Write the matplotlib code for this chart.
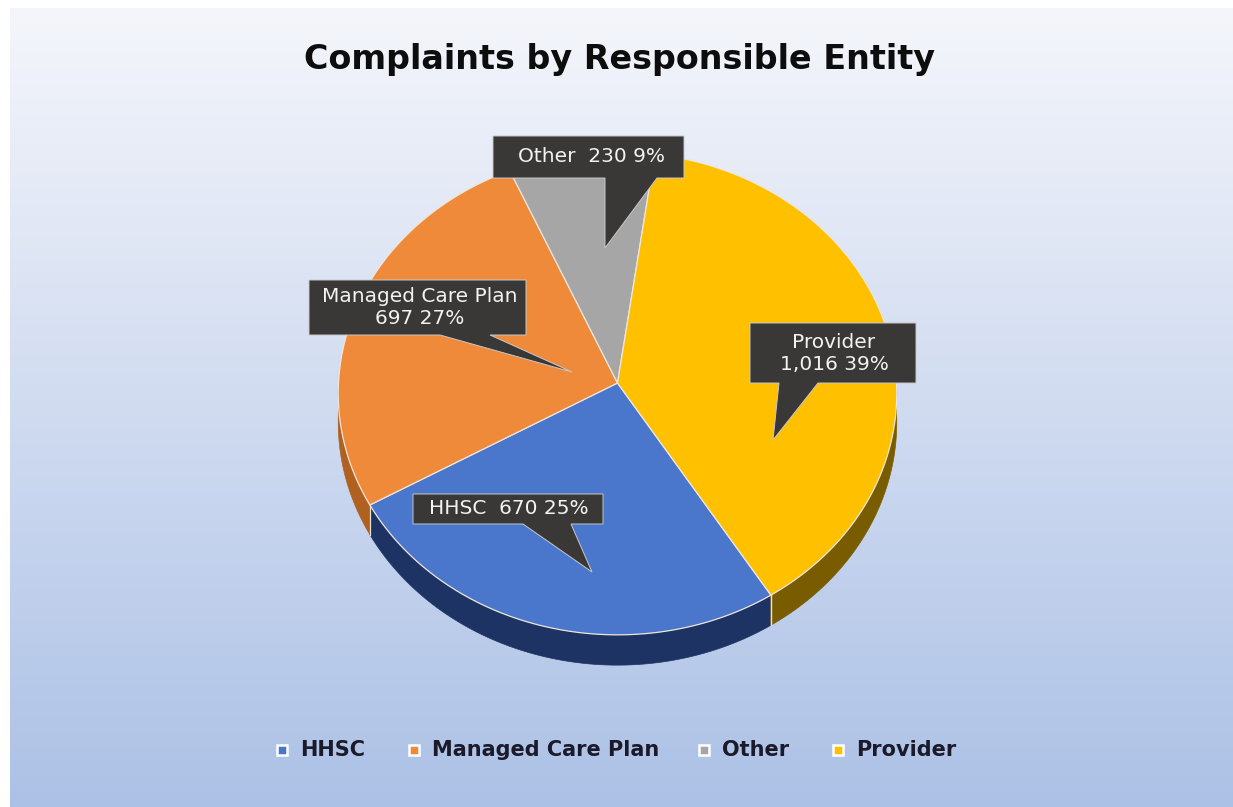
import numpy as np
import matplotlib
matplotlib.use("Agg")
import matplotlib.pyplot as plt
from matplotlib.patches import Polygon

# ---------------- data ----------------
categories = ["HHSC", "Managed Care Plan", "Other", "Provider"]
values = [670, 697, 230, 1016]
pct_labels = [25, 27, 9, 39]
top_colors = ["#4a77cb", "#f08a3b", "#a6a6a6", "#ffc000"]
side_colors = ["#1d3363", "#b0601f", "#6e6e6e", "#7a5c00"]
title = "Complaints by Responsible Entity"

# ---------------- layout ----------------
W, H = 1233, 807
fig = plt.figure(figsize=(W / 100, H / 100), dpi=100)
ax = fig.add_axes([0, 0, 1, 1])
ax.set_xlim(0, W)
ax.set_ylim(H, 0)
ax.axis("off")
fig.patch.set_facecolor("white")

# background gradient (chart area)
x0b, y0b = 10, 8
top_rgb = np.array([245, 246, 251]) / 255
bot_rgb = np.array([172, 193, 230]) / 255
tt = np.linspace(0, 1, 400)[:, None]
grad = top_rgb[None, :] * (1 - tt) + bot_rgb[None, :] * tt
grad = np.repeat(grad[:, None, :], 2, axis=1)
ax.imshow(grad, extent=[x0b, W, H, y0b], aspect="auto", zorder=0, interpolation="bilinear")

# pie geometry (pixels) with slight perspective
cx, cy, R, C, K, depth = 617.5, 383.0, 279.0, 241.0, 0.043, 29.0
start_deg = 148.0  # clockwise from 12 o'clock


def pt(t_deg, r=1.0, dz=0.0):
    t = np.radians(t_deg)
    X = r * np.sin(t)
    Z = r * np.cos(t)
    s = 1.0 / (1.0 + K * Z)
    return cx + R * X * s, cy - C * Z * s + dz * s


total = float(sum(values))
bounds = [start_deg]
for v in values:
    bounds.append(bounds[-1] + 360.0 * v / total)

# side walls (front half: 90..270 deg)
for i in range(len(values)):
    a0, a1 = bounds[i], bounds[i + 1]
    for shift in (0, 360, -360):
        s0, s1 = max(a0 + shift, 90), min(a1 + shift, 270)
        if s1 > s0:
            ts = np.linspace(s0, s1, 150)
            xs, ys = pt(ts)
            xb, yb = pt(ts, dz=depth)
            verts = list(zip(xs, ys)) + list(zip(xb[::-1], yb[::-1]))
            ax.add_patch(Polygon(verts, closed=True, facecolor=side_colors[i],
                                 edgecolor=side_colors[i], lw=0.5, zorder=2))
# side seams at slice boundaries on front
for b in bounds:
    bb = b % 360
    if 90 < bb < 270:
        x, y = pt(bb)
        xb, yb = pt(bb, dz=depth)
        ax.plot([x, xb], [y, yb], color="#e8e0d0", lw=0.9, zorder=3)

# top faces
for i in range(len(values)):
    ts = np.linspace(bounds[i], bounds[i + 1], 200)
    xs, ys = pt(ts)
    verts = [(cx, cy)] + list(zip(xs, ys))
    ax.add_patch(Polygon(verts, closed=True, facecolor=top_colors[i],
                         edgecolor="#eee6dc", lw=0.9, zorder=4))

# callouts: box (x0, y0, x1, y1), pointer base (bx0, bx1), tip (tx, ty), text center
callouts = [
    dict(box=(413, 494, 603, 524), base=(523, 571), tip=(592, 572), tc=(509, 509),
         text=f"{categories[0]}  {values[0]:,} {pct_labels[0]}%"),
    dict(box=(309, 280, 526, 335), base=(440, 490), tip=(572, 372), tc=(420, 308),
         text=f"{categories[1]}\n{values[1]:,} {pct_labels[1]}%"),
    dict(box=(493, 136, 684, 178), base=(605, 657), tip=(605, 248), tc=(592, 157),
         text=f"{categories[2]}  {values[2]:,} {pct_labels[2]}%"),
    dict(box=(750, 323, 916, 383), base=(779, 818), tip=(773, 440), tc=(834, 353),
         text=f"{categories[3]}\n{values[3]:,} {pct_labels[3]}%"),
]
for c in callouts:
    x0, y0, x1, y1 = c["box"]
    bx0, bx1 = c["base"]
    tx, ty = c["tip"]
    verts = [(x0, y0), (x1, y0), (x1, y1), (bx1, y1), (tx, ty), (bx0, y1), (x0, y1)]
    ax.add_patch(Polygon(verts, closed=True, facecolor="#3a3737",
                         edgecolor="#c8c8c8", lw=0.7, zorder=6))
    ax.text(c["tc"][0], c["tc"][1], c["text"], ha="center", va="center",
            color="#f2f2f2", fontsize=14.5, family="DejaVu Sans",
            linespacing=1.2, zorder=7)

# title
ax.text(619, 60, title, ha="center", va="center", fontsize=24,
        fontweight="bold", color="#0d0d0d", family="DejaVu Sans", zorder=8)

# legend
leg_marker_x = [282, 414, 704, 838]
leg_y = 750
for i, name in enumerate(categories):
    ax.plot([leg_marker_x[i]], [leg_y], marker="s", markersize=7,
            markerfacecolor=top_colors[i], markeredgecolor="white",
            markeredgewidth=1.8, zorder=8)
    ax.text(leg_marker_x[i] + 18, leg_y, name, ha="left", va="center",
            fontsize=15, fontweight="bold", color="#1a1a2a",
            family="DejaVu Sans", zorder=8)

fig.savefig("out.png", dpi=100)
